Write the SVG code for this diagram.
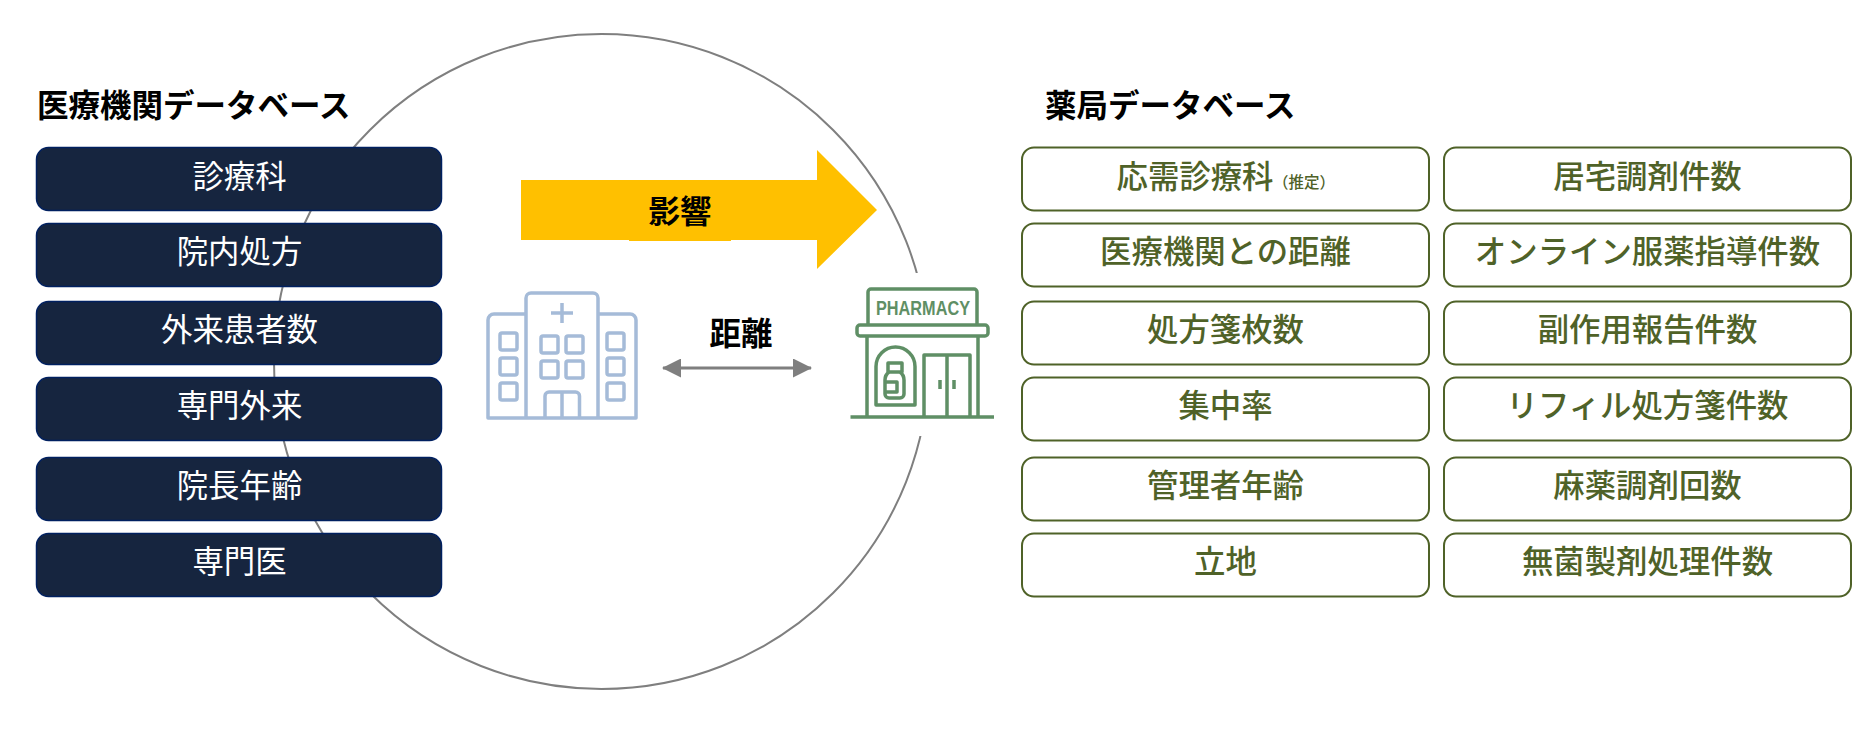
<svg xmlns="http://www.w3.org/2000/svg" width="1866" height="730" viewBox="0 0 1866 730">
<style>
text{font-family:"Noto Sans CJK JP","Noto Sans",sans-serif;text-anchor:middle;dominant-baseline:central}
.h{font-size:31.500px;font-weight:700;fill:#000;text-anchor:start}
.l{font-size:31.500px;font-weight:700;fill:#000}
.d rect{fill:#16253f;stroke:#002060;stroke-width:1.5}
.d text{font-size:31.400px;fill:#fff}
.g rect{fill:#fff;stroke:#4f6228;stroke-width:2}
.g text{font-size:31.400px;fill:#4f6228;font-weight:500}
.hi *{fill:none;stroke:#a5bbd8;stroke-width:3.500;stroke-linejoin:round}
.ph *{fill:none;stroke:#5f8f65;stroke-width:3.500;stroke-linejoin:round}
</style>
<defs>
<marker id="ah" markerWidth="19" markerHeight="19" refX="18" refY="9.500" orient="auto-start-reverse" markerUnits="userSpaceOnUse"><path d="M0,0L19,9.500L0,19Z" fill="#7f7f7f"/></marker>
</defs>
<rect width="1866" height="730" fill="#fff"/>
<circle id="circle" cx="601.500" cy="361.500" r="327.500" fill="none" stroke="#7f7f7f" stroke-width="2"/>
<text class="h" x="37" y="103">医療機関データベース</text>
<text class="h" x="1045" y="103">薬局データベース</text>
<g id="medical" class="d">
<g id="m1"><rect x="36.500" y="147.500" width="405" height="63" rx="12"/><text x="239.500" y="174">診療科</text></g>
<g id="m2"><rect x="36.500" y="223.500" width="405" height="63" rx="12"/><text x="239.500" y="249">院内処方</text></g>
<g id="m3"><rect x="36.500" y="301.500" width="405" height="63" rx="12"/><text x="239.500" y="327">外来患者数</text></g>
<g id="m4"><rect x="36.500" y="377.500" width="405" height="63" rx="12"/><text x="239.500" y="403">専門外来</text></g>
<g id="m5"><rect x="36.500" y="457.500" width="405" height="63" rx="12"/><text x="239.500" y="483">院長年齢</text></g>
<g id="m6"><rect x="36.500" y="533.500" width="405" height="63" rx="12"/><text x="239.500" y="559">専門医</text></g>
</g>
<g id="pharmacy-db" class="g">
<g id="p1"><rect x="1022" y="147.500" width="407" height="63" rx="12"/><text x="1195" y="174">応需診療科</text><text x="1304" y="181" style="font-size:15.500px">（推定）</text></g>
<g id="p2"><rect x="1022" y="223.500" width="407" height="63" rx="12"/><text x="1225.500" y="249">医療機関との距離</text></g>
<g id="p3"><rect x="1022" y="301.500" width="407" height="63" rx="12"/><text x="1225.500" y="327">処方箋枚数</text></g>
<g id="p4"><rect x="1022" y="377.500" width="407" height="63" rx="12"/><text x="1225.500" y="403">集中率</text></g>
<g id="p5"><rect x="1022" y="457.500" width="407" height="63" rx="12"/><text x="1225.500" y="483">管理者年齢</text></g>
<g id="p6"><rect x="1022" y="533.500" width="407" height="63" rx="12"/><text x="1225.500" y="559">立地</text></g>
<g id="p7"><rect x="1444" y="147.500" width="407" height="63" rx="12"/><text x="1647.500" y="174">居宅調剤件数</text></g>
<g id="p8"><rect x="1444" y="223.500" width="407" height="63" rx="12"/><text x="1647.500" y="249">オンライン服薬指導件数</text></g>
<g id="p9"><rect x="1444" y="301.500" width="407" height="63" rx="12"/><text x="1647.500" y="327">副作用報告件数</text></g>
<g id="p10"><rect x="1444" y="377.500" width="407" height="63" rx="12"/><text x="1647.500" y="403">リフィル処方箋件数</text></g>
<g id="p11"><rect x="1444" y="457.500" width="407" height="63" rx="12"/><text x="1647.500" y="483">麻薬調剤回数</text></g>
<g id="p12"><rect x="1444" y="533.500" width="407" height="63" rx="12"/><text x="1647.500" y="559">無菌製剤処理件数</text></g>
</g>
<g id="influence">
<path d="M521,180H817V150L877,210L817,269V240H521Z" fill="#ffc000"/>
<rect x="629" y="180" width="102" height="61" fill="#ffc000"/>
<text class="l" x="680" y="209">影響</text>
</g>
<g id="connectors">
<line x1="663" y1="368" x2="811" y2="368" stroke="#7f7f7f" stroke-width="3" marker-start="url(#ah)" marker-end="url(#ah)"/>
</g>
<text class="l" x="741" y="331">距離</text>
<g id="hospital" class="hi">
<path d="M526,418V298a5,5 0 0 1 5,-5H593a5,5 0 0 1 5,5V418"/>
<path d="M526,314H494a6,6 0 0 0 -6,6V418H636V320a6,6 0 0 0 -6,-6H598"/>
<path d="M562,303V323M551,313H573"/>
<rect x="541" y="336" width="17" height="17" rx="2"/><rect x="566" y="336" width="17" height="17" rx="2"/>
<rect x="541" y="361" width="17" height="17" rx="2"/><rect x="566" y="361" width="17" height="17" rx="2"/>
<rect x="500" y="333" width="17" height="17" rx="2"/><rect x="500" y="358" width="17" height="17" rx="2"/><rect x="500" y="383" width="17" height="17" rx="2"/>
<rect x="607" y="333" width="17" height="17" rx="2"/><rect x="607" y="358" width="17" height="17" rx="2"/><rect x="607" y="383" width="17" height="17" rx="2"/>
<path d="M545,418V396a4,4 0 0 1 4,-4H575.500a4,4 0 0 1 4,4V418M562,392V418"/>
</g>
<g id="pharmacy" class="ph">
<rect x="848" y="273" width="152" height="163" style="fill:#fff;stroke:none"/>
<path d="M868,325V292a3,3 0 0 1 3,-3H974a3,3 0 0 1 3,3V325"/>
<rect x="857" y="325" width="131" height="11" rx="3"/>
<path d="M867,336V417M978,336V417M850.500,417H994"/>
<path d="M876,405V366.500a19.500,19.500 0 0 1 39,0V405Z"/>
<path d="M888,363H902V372H888ZM889,372Q885,375 885,380V394a4,4 0 0 0 4,4H900a4,4 0 0 0 4,-4V380Q904,375 900,372M886,382H897V392H886"/>
<path d="M924,417V355H970V417M947,355V417M940,380V389M954,380V389"/>
<text x="923" y="307.500" textLength="94" lengthAdjust="spacingAndGlyphs" style="font-family:'Liberation Sans',sans-serif;font-size:19.500px;font-weight:700;fill:#5f8f65;stroke:none">PHARMACY</text>
</g>
</svg>
